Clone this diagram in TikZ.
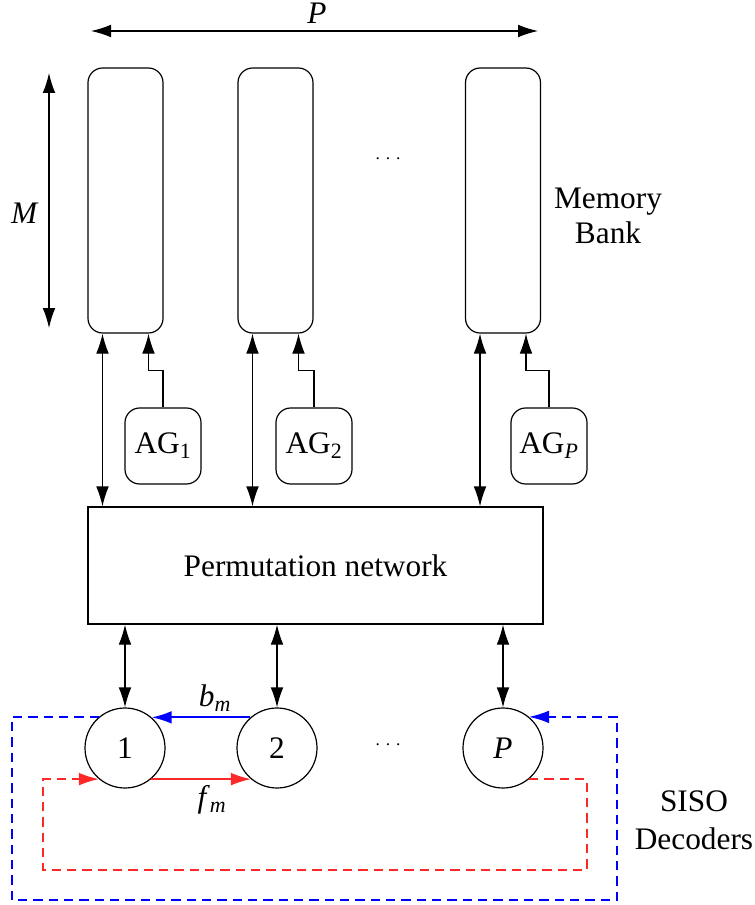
\documentclass[tikz,border=0pt]{standalone}
\usepackage{fontspec}
\setmainfont{Liberation Serif}
\usetikzlibrary{arrows.meta}
\definecolor{lblue}{RGB}{0,0,255}
\definecolor{lred}{RGB}{255,40,40}
\begin{document}
\begin{tikzpicture}[x=0.75pt,y=-0.75pt,
  every node/.style={font=\fontsize{23.5}{26.5}\selectfont},
  >={Latex[length=15pt,width=9.5pt]},
  line/.style={line width=0.9pt},
  bank/.style={draw,line width=0.9pt,rounded corners=11pt,minimum width=56.25pt,minimum height=198.75pt,inner sep=0pt},
  agbox/.style={draw,line width=0.9pt,rounded corners=11pt,minimum width=57pt,minimum height=57pt,inner sep=0pt},
  permbox/.style={draw,line width=0.9pt,minimum width=341.25pt,minimum height=87.75pt,inner sep=0pt},
  dec/.style={draw,circle,line width=0.9pt,minimum size=60pt,inner sep=0pt},
  bluedash/.style={lblue,line width=1pt,dash pattern=on 7pt off 4.5pt},
  reddash/.style={lred,line width=1pt,dash pattern=on 7pt off 4.5pt},
  dotsnode/.style={font=\fontsize{13}{15}\selectfont},
]
\useasboundingbox (0,0) rectangle (754,905);

% memory banks
\node[bank] (bank1) at (125.5,200.5) {};
\node[bank] (bank2) at (275.5,200.5) {};
\node[bank] (bank3) at (503,200.5) {};
\node[dotsnode] (dots1) at (388,159) {.\hspace{4.5pt}.\hspace{4.5pt}.};
\node[align=center] (membank) at (608,216) {Memory\\Bank};

% P arrow
\coordinate (pl) at (91,31);
\coordinate (pr) at (538,31);
\draw[<->,line] (pl) -- (pr);
\node (plabel) at (317,13) {\textit{P}};

% M arrow
\coordinate (mt) at (49,73);
\coordinate (mb) at (49,328);
\draw[<->,line] (mt) -- (mb);
\node (mlabel) at (25,213) {\textit{M}};

% address generators
\node[agbox] (ag1) at (163,446) {AG\textsubscript{1}};
\node[agbox] (ag2) at (314,446) {AG\textsubscript{2}};
\node[agbox] (agp) at (549,446) {AG\textsubscript{\textit{P}}};

% permutation network
\node[permbox] (perm) at (315.5,565.5) {Permutation network};

% bank <-> perm
\draw[<->,line] ([xshift=-17.25pt]bank1.south) -- ([xshift=-17.25pt]bank1.south |- perm.north);
\draw[<->,line] ([xshift=-17.25pt]bank2.south) -- ([xshift=-17.25pt]bank2.south |- perm.north);
\draw[<->,line] ([xshift=-17.25pt]bank3.south) -- ([xshift=-17.25pt]bank3.south |- perm.north);

% AG -> bank
\draw[->,line] (ag1.north) -- ++(0,-37) -| ([xshift=17.25pt]bank1.south);
\draw[->,line] (ag2.north) -- ++(0,-37) -| ([xshift=17.25pt]bank2.south);
\draw[->,line] (agp.north) -- ++(0,-37) -| ([xshift=17.25pt]bank3.south);

% decoders
\node[dec] (c1) at (125,748) {1};
\node[dec] (c2) at (277,748) {2};
\node[dec] (cp) at (503,748) {\textit{P}};
\node[dotsnode] (dots2) at (388,745) {.\hspace{4.5pt}.\hspace{4.5pt}.};

% perm <-> decoders
\draw[<->,line] (c1.north |- perm.south) -- (c1.north);
\draw[<->,line] (c2.north |- perm.south) -- (c2.north);
\draw[<->,line] (cp.north |- perm.south) -- (cp.north);

% b_m and f_m
\draw[->,draw=lblue,fill=lblue,line width=1.4pt] (c2.131) -- (c1.49);
\node (bm) at (215,698) {\textit{b}\textsubscript{\textit{m}}};
\draw[->,draw=lred,fill=lred,line width=1.1pt] (c1.-50) -- (c2.-130);
\node (fm) at (212,800) {\textit{f}\textsubscript{\textit{m}}};

% wrap-around dashed paths
\coordinate (rdA) at (587,870);
\coordinate (rdB) at (43,870);
\draw[reddash,->] (cp.-50) -| (rdA) -- (rdB) |- (c1.-130);
\coordinate (bdA) at (12,900);
\coordinate (bdB) at (617,900);
\draw[bluedash,->] (c1.130) -| (bdA) -- (bdB) |- (cp.50);

\node[align=center,font=\fontsize{23.5}{28.5}\selectfont] (siso) at (694,820) {SISO\\Decoders};
\end{tikzpicture}
\end{document}
